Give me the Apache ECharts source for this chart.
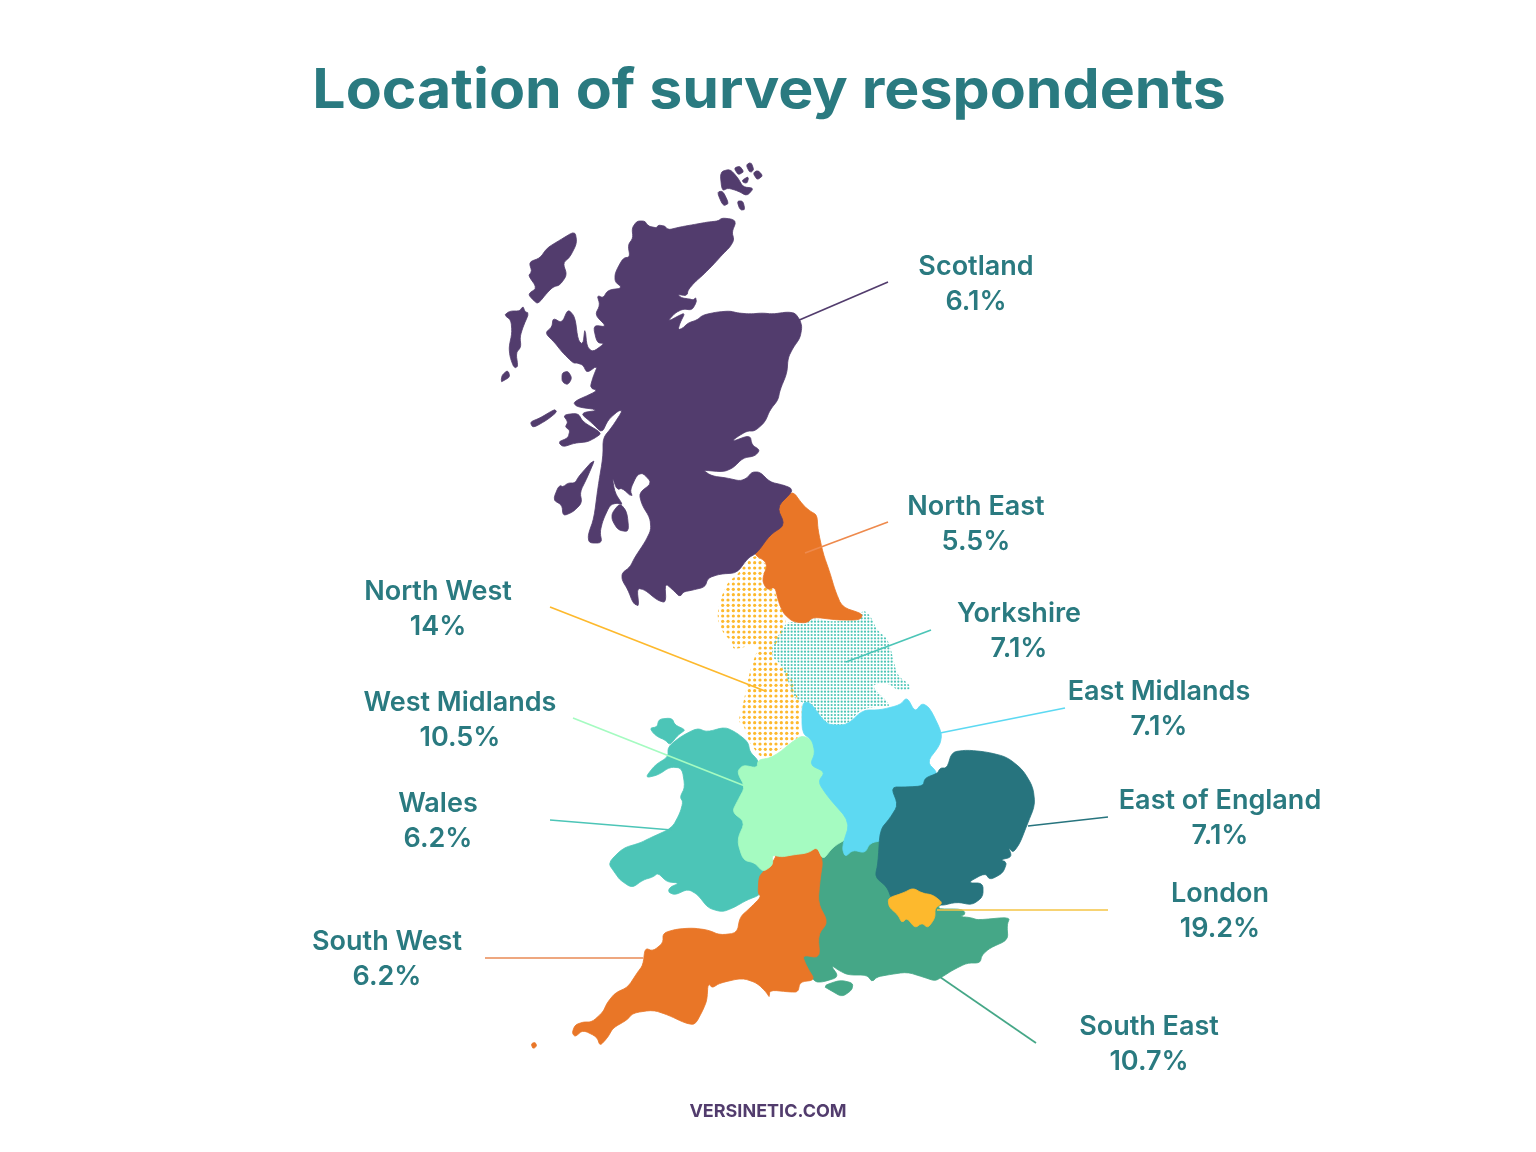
<!DOCTYPE html>
<html><head><meta charset="utf-8">
<style>html,body{margin:0;padding:0;background:#fff}#c{width:1536px;height:1152px}</style>
<script src="https://cdn.jsdelivr.net/npm/echarts@6/dist/echarts.min.js"></script>
</head><body><div id="c"></div>
<script>
const titleText = 'Location of survey respondents';
const footerText = 'VERSINETIC.COM';
const regionNames = ['Scotland','North East','Yorkshire','North West','West Midlands','Wales','South West','East Midlands','East of England','London','South East'];
const percentLabels = ['6.1%','5.5%','7.1%','14%','10.5%','6.2%','6.2%','7.1%','7.1%','19.2%','10.7%'];
const percentValues = [6.1,5.5,7.1,14,10.5,6.2,6.2,7.1,7.1,19.2,10.7];

// Region outlines (map units)
const scotlandMain = [[637,221],[645,221],[648,226],[657,228],[658,225],[665,226],[668,230],[680,227],[697,224],[708,222],[718,221],[722,218],[732,219],[736,222],[732,232],[734,240],[730,247],[722,255],[713,265],[703,275],[695,282],[688,290],[687,296],[676,294],[682,298],[690,299],[693,300],[697,297],[696,303],[692,310],[683,309],[675,313],[667,322],[680,315],[685,313],[680,323],[678,330],[683,328],[688,323],[697,320],[703,315],[717,312],[730,311],[738,313],[750,314],[762,313],[773,314],[787,312],[795,313],[800,320],[802,327],[800,338],[793,348],[788,358],[787,373],[780,390],[778,400],[770,410],[765,422],[755,431],[747,431],[737,437],[731,442],[750,435],[752,445],[760,450],[755,456],[743,458],[733,468],[723,472],[702,470],[712,476],[727,478],[740,481],[747,478],[752,472],[760,472],[770,482],[783,485],[791,488],[792,492],[777,507],[785,525],[770,535],[757,553],[748,558],[737,573],[720,574],[708,578],[705,587],[693,590],[683,592],[680,597],[673,590],[665,583],[666,603],[657,600],[645,590],[637,588],[639,607],[633,603],[628,590],[622,580],[622,573],[630,567],[635,557],[645,542],[651,530],[650,518],[642,505],[639,493],[652,483],[643,473],[637,475],[630,490],[633,498],[622,488],[617,490],[612,476],[615,493],[623,505],[617,503],[610,505],[603,520],[600,532],[602,543],[589,543],[588,535],[594,518],[598,487],[603,457],[603,438],[612,427],[623,410],[618,411],[608,420],[602,433],[592,423],[580,413],[600,410],[577,407],[573,402],[593,393],[597,390],[590,388],[593,377],[598,365],[587,373],[583,365],[577,363],[573,363],[562,352],[555,343],[545,333],[552,327],[553,318],[562,323],[568,309],[575,317],[578,340],[583,345],[585,327],[587,347],[593,352],[605,343],[597,343],[593,325],[607,327],[595,315],[600,305],[597,295],[603,298],[608,290],[623,288],[615,282],[615,273],[623,258],[630,257],[628,245],[633,238],[632,228]];
const scotlandMull = [[563,415],[578,413],[583,422],[602,433],[595,438],[587,442],[575,443],[563,447],[558,442],[568,438],[570,430],[565,427],[568,422]];
const scotlandTiree = [[530,422],[540,418],[555,409],[557,412],[547,420],[533,428]];
const scotlandIslay = [[596,457],[579,476],[575,483],[568,483],[563,487],[559,485],[553,500],[562,505],[563,516],[573,512],[582,503],[580,492],[587,478]];
const scotlandArran = [[612,513],[620,503],[627,512],[629,532],[618,530],[612,520]];
const scotlandLewis = [[575,231],[577,243],[570,257],[563,263],[567,275],[560,285],[553,287],[547,293],[538,304],[533,300],[528,294],[537,288],[528,275],[532,272],[529,262],[540,258],[547,248],[560,240]];
const scotlandUist = [[523,306],[525,312],[529,313],[523,327],[520,337],[521,347],[516,353],[518,367],[514,368],[510,357],[509,347],[512,333],[511,320],[504,315],[510,311],[520,311]];
const scotlandBarra = [[501,382],[502,375],[508,370],[510,377],[503,381]];
const scotlandRum = [[562,373],[568,371],[572,378],[568,385],[562,382]];
const orkneyMain = [[720,172],[730,169],[738,178],[743,187],[754,188],[747,196],[738,191],[728,188],[722,191]];
const orkneyA = [[717,192],[723,191],[729,204],[723,206]];
const orkneyB = [[737,201],[743,201],[745,210],[740,210]];
const orkneyC = [[734,168],[740,166],[744,172],[738,175]];
const orkneyD = [[746,165],[751,162],[754,170],[750,173]];
const orkneyE = [[753,173],[758,170],[763,176],[757,180]];
const orkneyF = [[741,181],[749,176],[747,184]];
const northEast = [[792,490],[803,505],[810,511],[817,515],[818,530],[823,553],[830,573],[835,590],[842,607],[863,614],[860,620],[837,620],[813,617],[807,623],[793,622],[783,613],[778,600],[775,587],[767,590],[762,580],[768,563],[752,553],[765,532],[780,522],[772,507]];
const yorkshire = [[787,622],[800,622],[813,618],[833,622],[857,619],[863,610],[870,615],[877,630],[887,638],[892,653],[897,675],[910,685],[910,690],[897,690],[888,683],[870,685],[893,707],[873,707],[860,710],[847,725],[827,725],[813,710],[803,703],[793,697],[788,680],[780,663],[772,657],[772,645],[780,633]];
const northWest = [[757,555],[768,567],[763,580],[773,588],[778,600],[787,622],[780,637],[772,650],[773,660],[790,673],[797,697],[802,703],[800,737],[787,745],[773,753],[770,760],[760,757],[748,740],[743,723],[738,722],[743,705],[750,670],[760,643],[733,650],[733,643],[723,633],[717,618],[720,600],[728,582],[737,575],[748,560]];
const anglesey = [[650,728],[657,727],[659,719],[672,718],[675,725],[686,730],[678,735],[670,745],[665,740],[658,737],[653,733]];
const walesMain = [[668,747],[680,737],[697,728],[707,732],[725,727],[737,733],[748,742],[750,752],[758,760],[760,772],[750,772],[746,776],[751,787],[745,800],[740,812],[752,822],[745,840],[750,856],[762,858],[770,872],[765,883],[760,895],[747,900],[733,908],[722,912],[708,908],[698,895],[688,889],[675,895],[668,892],[670,887],[680,883],[667,882],[658,873],[653,877],[643,880],[632,888],[620,880],[615,873],[608,863],[623,848],[640,843],[650,838],[672,828],[680,813],[683,802],[680,797],[685,787],[682,768],[670,767],[658,775],[645,778],[655,765],[668,757]];
const westMidlands = [[803,735],[820,745],[820,765],[832,775],[828,783],[840,800],[856,818],[848,838],[833,847],[823,860],[817,847],[808,853],[792,855],[782,857],[772,855],[773,865],[763,872],[755,863],[743,860],[737,840],[745,822],[732,812],[738,800],[745,787],[737,772],[743,765],[757,768],[758,760],[770,758],[780,752],[792,742]];
const eastMidlands = [[802,703],[810,702],[823,720],[830,725],[847,725],[863,710],[880,710],[900,705],[907,697],[915,712],[922,703],[930,708],[942,733],[940,745],[927,762],[938,773],[930,788],[923,795],[907,795],[900,792],[905,805],[897,818],[887,830],[885,840],[870,843],[865,853],[853,850],[845,857],[842,847],[850,822],[828,797],[818,782],[825,772],[810,765],[815,753],[812,740],[802,733]];
const eastOfEngland = [[952,752],[967,750],[987,752],[1007,757],[1023,770],[1033,787],[1035,805],[1027,825],[1020,843],[1013,853],[1008,846],[1012,857],[1000,860],[1007,862],[1003,873],[990,880],[985,873],[967,883],[983,883],[983,897],[972,905],[957,902],[940,906],[933,900],[922,898],[913,894],[903,897],[892,900],[887,887],[875,877],[878,863],[880,830],[890,818],[898,805],[891,787],[907,787],[923,786],[925,778],[938,773],[940,768],[947,768]];
const london = [[888,898],[903,893],[913,888],[922,893],[933,895],[943,903],[935,908],[935,918],[928,928],[922,923],[915,928],[907,918],[902,923],[898,915],[889,907]];
const southEast = [[885,838],[880,877],[892,885],[895,895],[943,903],[936,909],[962,909],[966,914],[958,917],[966,917],[972,918],[978,920],[1010,917],[1007,925],[1008,940],[990,948],[982,955],[980,963],[967,963],[953,970],[942,977],[935,981],[923,977],[907,972],[887,975],[877,977],[872,982],[867,975],[848,975],[838,970],[830,964],[839,977],[823,982],[815,982],[804,968],[799,953],[812,952],[812,935],[822,922],[812,903],[814,880],[817,860],[832,848],[842,838],[848,845],[853,840],[865,840],[872,835]];
const wight = [[823,986],[840,980],[853,983],[852,990],[842,997],[830,990]];
const southWest = [[763,872],[776,858],[775,850],[782,850],[792,848],[808,846],[815,844],[823,860],[820,880],[818,903],[828,922],[818,935],[820,958],[802,955],[807,967],[815,980],[800,982],[798,992],[790,992],[770,990],[769,998],[767,993],[757,983],[742,978],[720,983],[712,988],[708,983],[707,1000],[703,1010],[695,1025],[685,1023],[668,1015],[653,1010],[633,1013],[627,1020],[613,1028],[608,1037],[600,1046],[597,1037],[583,1030],[575,1037],[572,1033],[575,1025],[583,1022],[592,1022],[603,1012],[607,1003],[615,993],[628,987],[637,973],[643,965],[645,948],[653,951],[663,943],[663,933],[677,929],[693,928],[708,930],[720,935],[737,933],[740,917],[750,908],[761,897],[758,893],[759,877]];
const scilly = [[531,1044],[535,1042],[537,1046],[533,1049]];

const scotlandParts = [scotlandMain,scotlandMull,scotlandTiree,scotlandIslay,scotlandArran,scotlandLewis,scotlandUist,scotlandBarra,scotlandRum,orkneyMain,orkneyA,orkneyB,orkneyC,orkneyD,orkneyE,orkneyF];
const walesParts = [walesMain,anglesey];
const southEastParts = [southEast,wight];
const southWestParts = [southWest,scilly];

const H = 1152, W = 1536;
const flip = p => [p[0], H - p[1]];
// corner rounding so the traced coastlines are not angular
function soften(pts, t, rounds){
  let r = pts;
  for(let k=0;k<rounds;k++){
    const o=[];
    for(let i=0;i<r.length;i++){
      const a=r[i], b=r[(i+1)%r.length];
      o.push([a[0]+(b[0]-a[0])*t, a[1]+(b[1]-a[1])*t], [a[0]+(b[0]-a[0])*(1-t), a[1]+(b[1]-a[1])*(1-t)]);
    }
    r=o;
  }
  return r;
}
const ring = pts => { const r = soften(pts,0.2,2).map(flip); r.push(r[0]); return [r]; };
const feat = (name, parts) => ({type:'Feature', properties:{name}, geometry:{type:'MultiPolygon', coordinates:parts.map(ring)}});
echarts.registerMap('uk', {type:'FeatureCollection', features:[
  feat('North West',[northWest]), feat('Yorkshire',[yorkshire]), feat('North East',[northEast]),
  feat('Scotland',scotlandParts), feat('Wales',walesParts), feat('South East',southEastParts),
  feat('South West',southWestParts), feat('West Midlands',[westMidlands]), feat('East Midlands',[eastMidlands]),
  feat('East of England',[eastOfEngland]), feat('London',[london])
]});

function dots(tile, n, r, color){
  const c = document.createElement('canvas'); c.width = c.height = tile;
  const g = c.getContext('2d'); g.fillStyle = color; const s = tile/n;
  for(let i=0;i<n;i++)for(let j=0;j<n;j++){g.beginPath();g.arc((i+.5)*s,(j+.5)*s,r,0,7);g.fill();}
  return {image:c, repeat:'repeat'};
}
const solidColors = {'Scotland':'#523c6d','North East':'#e97627','Wales':'#4cc5b7','West Midlands':'#a5fbc1','South West':'#e97627','East Midlands':'#5dd9f2','East of England':'#27747e','London':'#fdb92d','South East':'#45a787'};
const patternColors = {'North West':dots(16,3,1.6,'#fdb92d'),'Yorkshire':dots(10,3,1.1,'#4cc5b7')};

const labelAnchors = {'Scotland':[976,284],'North East':[976,524],'Yorkshire':[1019,631],'North West':[438,609],'West Midlands':[460,720],'Wales':[438,821],'South West':[387,959],'East Midlands':[1159,709],'East of England':[1220,818],'London':[1220,911],'South East':[1149,1044]};
const leaderLines = {'Scotland':[[888,282],[797,321]],'North East':[[888,522],[805,553]],'Yorkshire':[[931,630],[846,662]],'North West':[[550,607],[765,691]],'West Midlands':[[573,718],[745,786]],'Wales':[[550,820],[672,830]],'South West':[[485,958],[643,958]],'East Midlands':[[1065,708],[940,733]],'East of England':[[1108,817],[1028,826]],'London':[[1108,910],[937,910]],'South East':[[1036,1043],[940,977]]};
const lineColors = {'Scotland':'#523c6d','North East':'#ee8a4d','Yorkshire':'#4cc5b7','North West':'#fdb92d','West Midlands':'#a5fbc1','Wales':'#4cc5b7','South West':'#e98a55','East Midlands':'#5dd9f2','East of England':'#27747e','London':'#f4c544','South East':'#45a787'};

const textFont = 'Inter', textColor = '#2a7a80';
const chart = echarts.init(document.getElementById('c'), null, {renderer:'canvas', width:W, height:H});
chart.setOption({
  animation:false, backgroundColor:'#ffffff',
  graphic:[
    {type:'text', x:769, y:91, scaleX:1.072, silent:true, style:{text:titleText, textAlign:'center', textVerticalAlign:'middle', fontFamily:textFont, fontWeight:700, fontSize:55, fill:textColor}},
    {type:'text', x:768, y:1112, silent:true, style:{text:footerText, textAlign:'center', textVerticalAlign:'middle', fontFamily:textFont, fontWeight:700, fontSize:18, fill:'#523c6d'}}
  ],
  geo:{map:'uk', left:0, top:0, width:W, height:H, aspectScale:1, boundingCoords:[[0,H],[W,0]], roam:false, silent:true,
    label:{show:false}, itemStyle:{borderWidth:0, areaColor:'#fff'}, emphasis:{disabled:true},
    regions:[
      ...Object.keys(patternColors).map(n=>({name:n, silent:true, itemStyle:{areaColor:patternColors[n], borderWidth:0}})),
      ...Object.keys(solidColors).map(n=>({name:n, silent:true, itemStyle:{areaColor:solidColors[n], borderColor:solidColors[n], borderWidth:0.8}}))
    ]},
  series:[
    {type:'lines', coordinateSystem:'geo', silent:true, z:5, polyline:false, symbol:'none', effect:{show:false},
      data:regionNames.map(n=>({name:n, coords:leaderLines[n].map(flip), lineStyle:{color:lineColors[n], width:1.7, opacity:1, curveness:0}}))},
    {type:'scatter', coordinateSystem:'geo', silent:true, z:6, symbolSize:0, itemStyle:{opacity:1},
      data:regionNames.map((n,i)=>({name:n, value:[...flip(labelAnchors[n]), percentValues[i]],
        label:{show:true, position:'inside', formatter:n+'\n'+percentLabels[i], align:'center', verticalAlign:'middle', opacity:1,
          fontFamily:textFont, fontWeight:600, fontSize:27, lineHeight:35, color:textColor}}))}
  ]
});
</script></body></html>
